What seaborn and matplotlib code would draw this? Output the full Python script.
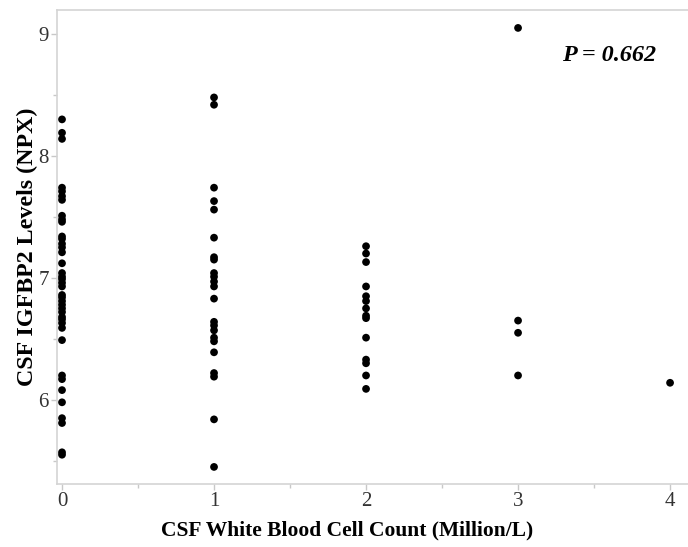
import matplotlib
matplotlib.use("Agg")
import matplotlib.pyplot as plt
from matplotlib.ticker import MultipleLocator
import pandas as pd
import seaborn as sns

# CSF IGFBP2 levels (NPX) grouped by CSF white blood cell count
wbc_0 = [8.30, 8.19, 8.14, 7.74, 7.71, 7.67, 7.64, 7.51, 7.48, 7.46, 7.34, 7.32,
         7.28, 7.25, 7.21, 7.12, 7.04, 7.01, 6.99, 6.96, 6.93, 6.86, 6.84, 6.81,
         6.78, 6.75, 6.72, 6.68, 6.66, 6.63, 6.59, 6.49, 6.20, 6.17, 6.08, 5.98,
         5.85, 5.81, 5.57, 5.55]
wbc_1 = [8.48, 8.42, 7.74, 7.63, 7.56, 7.33, 7.17, 7.15, 7.04, 7.01, 6.97, 6.93,
         6.83, 6.64, 6.61, 6.57, 6.51, 6.48, 6.39, 6.22, 6.19, 5.84, 5.45]
wbc_2 = [7.26, 7.20, 7.13, 6.93, 6.85, 6.81, 6.75, 6.69, 6.67, 6.51, 6.33, 6.30,
         6.20, 6.09]
wbc_3 = [9.05, 6.65, 6.55, 6.20]
wbc_4 = [6.14]

counts = [0, 1, 2, 3, 4]
groups = [wbc_0, wbc_1, wbc_2, wbc_3, wbc_4]
p_label = "P = 0.662"

df = pd.DataFrame({
    "wbc": [c for c, g in zip(counts, groups) for _ in g],
    "igfbp2": [v for g in groups for v in g],
})

sns.set_theme(style="white")
plt.rcParams["font.family"] = ["Liberation Serif", "DejaVu Serif"]

fig = plt.figure(figsize=(6.88, 5.47), dpi=100)
ax = fig.add_axes([57 / 688, 1 - 484 / 547, 1 - 57 / 688, (484 - 10) / 547])

sns.scatterplot(data=df, x="wbc", y="igfbp2", ax=ax, color="black",
                s=31, edgecolor="none", linewidth=0)

ax.set_xlim(-0.033, 4.118)
ax.set_ylim(5.31, 9.197)
ax.xaxis.set_major_locator(MultipleLocator(1))
ax.xaxis.set_minor_locator(MultipleLocator(0.5))
ax.yaxis.set_major_locator(MultipleLocator(1))
ax.yaxis.set_minor_locator(MultipleLocator(0.5))

spine_color = "#d4d4d4"
for side in ["left", "bottom", "top"]:
    ax.spines[side].set_visible(True)
    ax.spines[side].set_color(spine_color)
    ax.spines[side].set_linewidth(1.2)
ax.spines["right"].set_visible(False)

ax.tick_params(axis="both", which="both", direction="out", color="#c8c8c8",
               left=True, bottom=True, width=1)
ax.tick_params(axis="both", which="major", length=4, labelsize=15,
               labelcolor="#333333", pad=2)
ax.tick_params(axis="both", which="minor", length=3)

ax.set_xlabel("CSF White Blood Cell Count (Million/L)", fontsize=15.5,
              fontweight="bold", labelpad=6.5, color="black")
ax.xaxis.label.set_x(0.4596)
ax.set_ylabel("CSF IGFBP2 Levels (NPX)", fontsize=17.3,
              fontweight="bold", labelpad=0, color="black")

ax.text(0.9493, 0.903, p_label, transform=ax.transAxes, ha="right", va="center",
        fontsize=17.4, fontweight="bold", fontstyle="italic", color="black")

fig.savefig("out.png", dpi=100)
